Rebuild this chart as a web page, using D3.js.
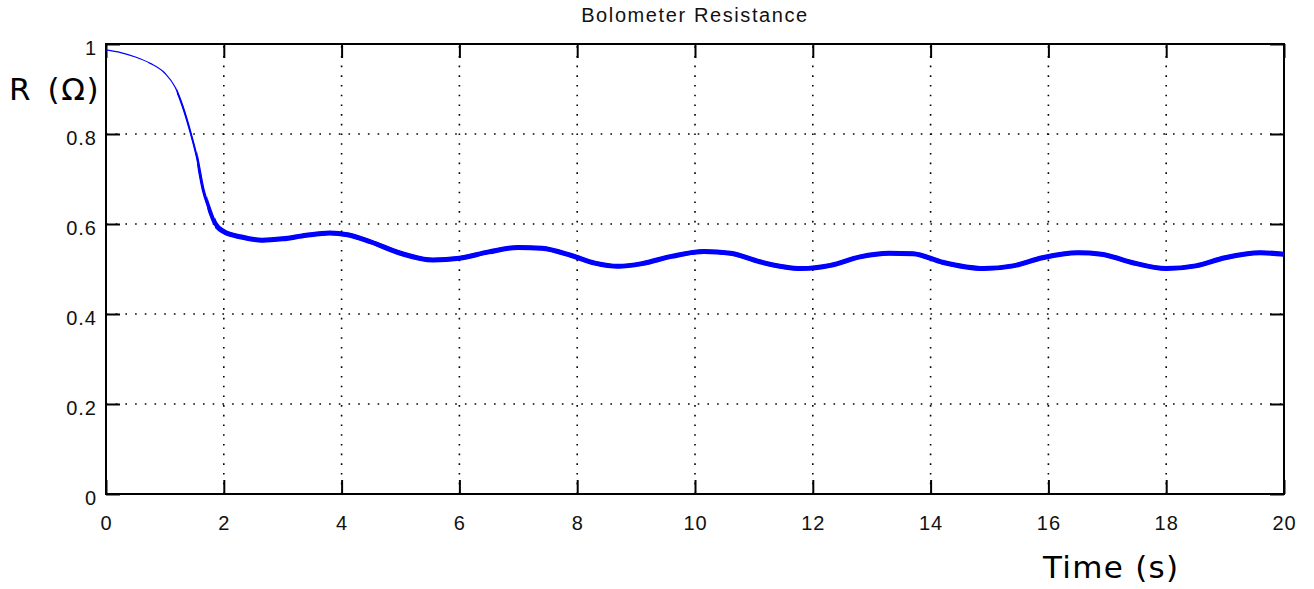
<!DOCTYPE html>
<html>
<head>
<meta charset="utf-8">
<script src="https://cdn.jsdelivr.net/npm/d3@7"></script>
<style>
  html, body { margin: 0; padding: 0; background: #fff; }
  svg { display: block; }
  .tick-label { font-family: "Liberation Sans", Arial, sans-serif; font-size: 20px; fill: #111; letter-spacing: 1px; }
  .title { font-family: "Liberation Sans", Arial, sans-serif; font-size: 20px; fill: #111; letter-spacing: 1.6px; }
  .axis-label { font-family: "DejaVu Sans", sans-serif; font-size: 31px; fill: #000; }
</style>
</head>
<body>
<svg id="chart" width="1314" height="589"></svg>
<script>
// ---- data ----
const timeS = [0, 0.25, 0.5, 0.75, 1.0, 1.17, 1.3, 1.44, 1.54, 1.65, 1.74, 1.85, 2.0, 2.3, 2.65, 3.0, 3.4, 3.8, 4.1, 4.5, 5.0, 5.55, 6.0, 6.5, 7.0, 7.4, 7.9, 8.3, 8.7, 9.1, 9.6, 10.15, 10.6, 11.1, 11.8, 12.3, 12.8, 13.3, 13.7, 14.2, 14.9, 15.4, 15.9, 16.5, 16.9, 17.4, 18.0, 18.5, 19.0, 19.6, 20.0];
const resistance = [0.987, 0.981, 0.971, 0.957, 0.935, 0.905, 0.862, 0.801, 0.750, 0.676, 0.638, 0.601, 0.583, 0.571, 0.564, 0.567, 0.575, 0.580, 0.576, 0.560, 0.535, 0.520, 0.524, 0.538, 0.548, 0.546, 0.530, 0.513, 0.506, 0.512, 0.528, 0.539, 0.535, 0.516, 0.501, 0.508, 0.527, 0.535, 0.534, 0.515, 0.501, 0.507, 0.525, 0.536, 0.533, 0.515, 0.501, 0.507, 0.525, 0.536, 0.533];
const xTicks = [0, 2, 4, 6, 8, 10, 12, 14, 16, 18, 20];
const yTicks = [0, 0.2, 0.4, 0.6, 0.8, 1];
const xTickLabels = ["0", "2", "4", "6", "8", "10", "12", "14", "16", "18", "20"];
const yTickLabels = ["0", "0.2", "0.4", "0.6", "0.8", "1"];
const titleText = "Bolometer Resistance";
const xLabelText = "Time (s)";
const yLabelText = "R (Ω)";

// ---- layout ----
const plotL = 106, plotR = 1284, plotT = 44, plotB = 494;
const svg = d3.select("#chart");
const x = d3.scaleLinear().domain([0, 20]).range([plotL, plotR]);
const y = d3.scaleLinear().domain([0, 1]).range([plotB, plotT]);

// grid
const grid = svg.append("g").attr("stroke", "#000").attr("stroke-width", 1.6)
  .attr("stroke-dasharray", "1.6,8.1").attr("fill", "none");
xTicks.slice(1, -1).forEach(t => {
  grid.append("line").attr("x1", x(t)).attr("x2", x(t)).attr("y1", plotB).attr("y2", plotT);
});
yTicks.slice(1, -1).forEach(v => {
  grid.append("line").attr("x1", plotL).attr("x2", plotR).attr("y1", y(v)).attr("y2", y(v));
});

// axes with inward ticks
const tickLen = 14;
svg.append("g").attr("transform", `translate(0,${plotB})`)
  .call(d3.axisBottom(x).tickValues(xTicks).tickSizeInner(-tickLen).tickSizeOuter(0).tickFormat((d, i) => xTickLabels[i]))
  .call(g => g.select(".domain").remove())
  .call(g => g.selectAll("line").attr("stroke", "#000").attr("stroke-width", 2))
  .call(g => g.selectAll("text").attr("class", "tick-label").attr("y", 36).attr("dy", null));
svg.append("g").attr("transform", `translate(0,${plotT})`)
  .call(d3.axisTop(x).tickValues(xTicks).tickSizeInner(-tickLen).tickSizeOuter(0).tickFormat(""))
  .call(g => g.select(".domain").remove())
  .call(g => g.selectAll("line").attr("stroke", "#000").attr("stroke-width", 2));
svg.append("g").attr("transform", `translate(${plotL},0)`)
  .call(d3.axisLeft(y).tickValues(yTicks).tickSizeInner(-tickLen).tickSizeOuter(0).tickFormat((d, i) => yTickLabels[i]))
  .call(g => g.select(".domain").remove())
  .call(g => g.selectAll("line").attr("stroke", "#000").attr("stroke-width", 2))
  .call(g => g.selectAll("text").attr("class", "tick-label").attr("x", -9).attr("dy", "0.5em"));
svg.append("g").attr("transform", `translate(${plotR},0)`)
  .call(d3.axisRight(y).tickValues(yTicks).tickSizeInner(-tickLen).tickSizeOuter(0).tickFormat(""))
  .call(g => g.select(".domain").remove())
  .call(g => g.selectAll("line").attr("stroke", "#000").attr("stroke-width", 2));
svg.selectAll("g").attr("font-family", null).attr("font-size", null);

// frame
svg.append("rect").attr("x", plotL).attr("y", plotT).attr("width", plotR - plotL).attr("height", plotB - plotT)
  .attr("fill", "none").attr("stroke", "#000").attr("stroke-width", 2);

// curve, thickening after the drop
const pts = timeS.map((t, i) => [t, resistance[i]]);
const lineGen = d3.line().x(d => x(d[0])).y(d => y(d[1])).curve(d3.curveMonotoneX);
const pathD = lineGen(pts);
const widthSteps = [[0, 1.2], [1.2, 2], [1.55, 3], [1.72, 4], [1.85, 5]];
const defs = svg.append("defs");
widthSteps.forEach(([t0, w], i) => {
  defs.append("clipPath").attr("id", "clip" + i)
    .append("rect").attr("x", x(t0)).attr("y", 0).attr("width", plotR + 10 - x(t0)).attr("height", 589);
  svg.append("path").attr("d", pathD).attr("fill", "none").attr("stroke", "#0000ff")
    .attr("stroke-width", w).attr("stroke-linejoin", "round").attr("clip-path", `url(#clip${i})`);
});

// texts
svg.append("text").attr("class", "title").attr("x", (plotL + plotR) / 2).attr("y", 21.5)
  .attr("text-anchor", "middle").text(titleText);
svg.append("text").attr("class", "axis-label").attr("x", 1043).attr("y", 578)
  .style("letter-spacing", "1.3px").text(xLabelText);
svg.append("text").attr("class", "axis-label").attr("x", 9).attr("y", 100)
  .style("letter-spacing", "1.6px").style("word-spacing", "4px").text(yLabelText);
</script>
</body>
</html>
